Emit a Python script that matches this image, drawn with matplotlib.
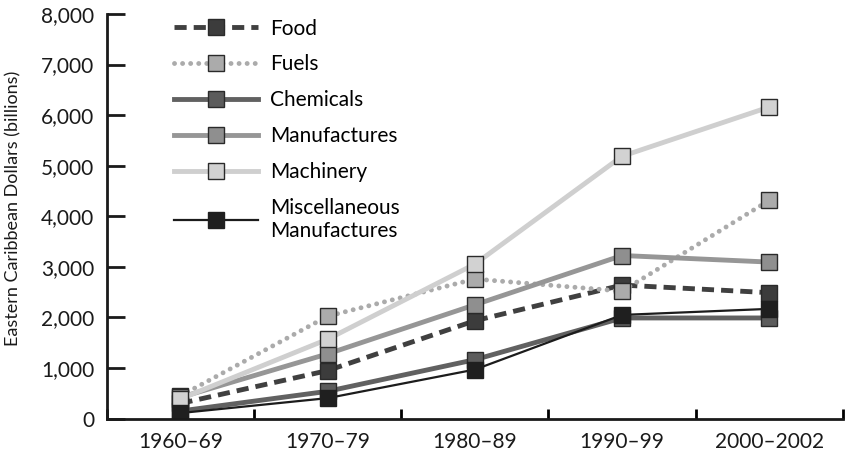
import numpy as np
from matplotlib import pyplot as plt

plt.rcParams['font.family'] = ['Lato', 'DejaVu Sans']

periods = ["1960–69", "1970–79", "1980–89", "1990–99", "2000–2002"]

food = [300, 950, 1935, 2640, 2490]
fuels = [450, 2025, 2760, 2520, 4316]
chemicals = [150, 540, 1165, 1990, 1990]
manufactures = [420, 1280, 2250, 3225, 3095]
machinery = [390, 1570, 3055, 5188, 6161]
misc = [110, 405, 970, 2050, 2170]

x = np.arange(len(periods))

fig = plt.figure(figsize=(8.48, 4.59), dpi=100)
ax = fig.add_axes([0.126, 0.088, 0.868, 0.8815])

ms = 11.5
ec = '#2a2a2a'
mew = 1.0

ax.plot(x, food, color='#404040', lw=3.5, ls=(0, (2.5, 1.45)), marker='s', ms=ms,
        mfc='#3c3c3c', mec=ec, mew=mew, label="Food")
ax.plot(x, fuels, color='#ababab', lw=3.5, ls=(0, (0.01, 1.65)), dash_capstyle='round',
        marker='s', ms=ms, mfc='#ababab', mec=ec, mew=mew, label="Fuels")
ax.plot(x, chemicals, color='#616161', lw=3.5, marker='s', ms=ms,
        mfc='#5c5c5c', mec=ec, mew=mew, label="Chemicals")
ax.plot(x, manufactures, color='#969696', lw=3.5, marker='s', ms=ms,
        mfc='#8f8f8f', mec=ec, mew=mew, label="Manufactures")
ax.plot(x, machinery, color='#cfcfcf', lw=3.5, marker='s', ms=ms,
        mfc='#d2d2d2', mec=ec, mew=mew, label="Machinery")
ax.plot(x, misc, color='#1c1c1c', lw=1.6, marker='s', ms=ms,
        mfc='#1f1f1f', mec='#1f1f1f', mew=mew, label="Miscellaneous\nManufactures")

ax.set_xlim(-0.5, 4.5)
ax.set_ylim(0, 8000)
ax.set_yticks(np.arange(0, 8001, 1000))
ax.set_yticklabels(["0" if v == 0 else f"{v:,}" for v in range(0, 8001, 1000)])
ax.set_xticks(np.arange(-0.5, 4.6, 1))
ax.set_xticklabels([])
ax.set_xticks(x, minor=True)
ax.set_xticklabels(periods, minor=True)

for s in ['top', 'right']:
    ax.spines[s].set_visible(False)
for s in ['left', 'bottom']:
    ax.spines[s].set_linewidth(2)
    ax.spines[s].set_color('#1a1a1a')

ax.tick_params(axis='y', direction='in', length=13, width=2, pad=9,
               labelsize=15, colors='#1a1a1a')
ax.tick_params(axis='x', which='major', direction='in', length=7, width=2)
ax.tick_params(axis='x', which='minor', length=0, pad=10, labelsize=15,
               labelcolor='#1a1a1a')

ax.set_ylabel("Eastern Caribbean Dollars (billions)", fontsize=13, color='#1a1a1a')
ax.yaxis.set_label_coords(-0.1155, 0.52)

leg = ax.legend(loc='upper left', bbox_to_anchor=(0.066, 1.035), frameon=False,
                fontsize=15, handlelength=4.0, handletextpad=0.6,
                labelspacing=0.76)

plt.savefig("out.png", dpi=100)
